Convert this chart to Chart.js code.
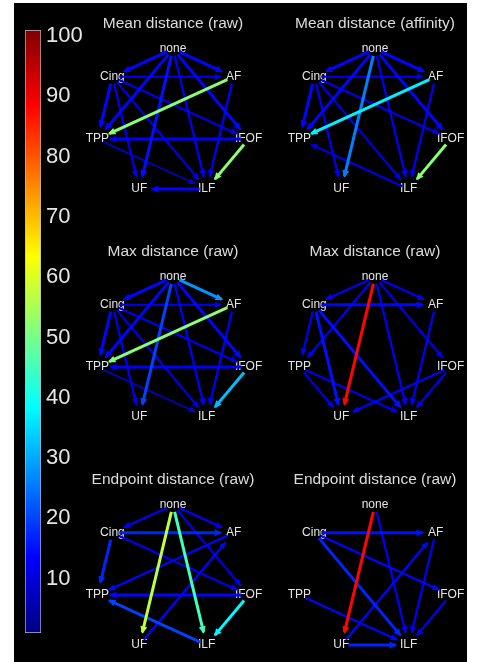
<!DOCTYPE html>
<html><head><meta charset="utf-8">
<script src="https://cdn.jsdelivr.net/npm/chart.js@4.4.0/dist/chart.umd.min.js"></script>
<style>
html,body{margin:0;padding:0;background:#fff;overflow:hidden;width:479px;height:662px;}
#bg{position:absolute;left:14px;top:3px;width:453px;height:659px;background:#000;}
canvas{position:absolute;}
</style></head><body>
<div id="bg"></div>
<canvas id="cb" width="76" height="643" style="left:14px;top:10px"></canvas>
<canvas id="p0" width="200" height="220" style="left:73px;top:12px"></canvas>
<canvas id="p1" width="200" height="220" style="left:275px;top:12px"></canvas>
<canvas id="p2" width="200" height="220" style="left:73px;top:240px"></canvas>
<canvas id="p3" width="200" height="220" style="left:275px;top:240px"></canvas>
<canvas id="p4" width="200" height="220" style="left:73px;top:468px"></canvas>
<canvas id="p5" width="200" height="220" style="left:275px;top:468px"></canvas>
<script>
// ---------------- data ----------------
const nodeNames = ['none','AF','IFOF','ILF','UF','TPP','Cing'];
const colorbarTicks = [10,20,30,40,50,60,70,80,90,100];
const colorbarRange = [1,101];
const panelTitles = ['Mean distance (raw)','Mean distance (affinity)','Max distance (raw)','Max distance (raw)','Endpoint distance (raw)','Endpoint distance (raw)'];

const meanRawEdges = ['none>Cing','none>AF','none>TPP','none>UF','none>ILF','none>IFOF','Cing>AF','Cing>TPP','Cing>UF','Cing>ILF','Cing>IFOF','AF>TPP','AF>ILF','IFOF>TPP','TPP>ILF','ILF>UF','IFOF>ILF'];
const meanRawValues = [14,14,14,15,13,14,12,14,12,11,11,52,13,13,10,14,52];
const meanRawStrength = [3,3,3,3,2,3,2,3,2,2,2,3,2,3,1,3,3];

const meanAffEdges = ['none>Cing','none>AF','none>TPP','none>UF','none>ILF','none>IFOF','Cing>AF','Cing>TPP','Cing>UF','Cing>ILF','Cing>IFOF','AF>TPP','AF>ILF','ILF>TPP','IFOF>ILF'];
const meanAffValues = [14,14,14,26,13,14,12,14,12,11,11,37,13,10,52];
const meanAffStrength = [3,3,3,3,2,3,2,3,2,2,2,3,2,2,3];

const maxRawAEdges = ['none>Cing','none>AF','none>TPP','none>UF','none>ILF','none>IFOF','Cing>AF','Cing>TPP','Cing>UF','Cing>ILF','Cing>IFOF','AF>TPP','AF>ILF','IFOF>TPP','TPP>ILF','IFOF>ILF'];
const maxRawAValues = [14,28,14,20,13,14,12,14,12,11,11,52,13,13,10,32];
const maxRawAStrength = [3,3,3,3,2,3,2,3,2,2,2,3,2,3,1,3];

const maxRawBEdges = ['none>Cing','none>AF','none>TPP','none>UF','none>ILF','none>IFOF','Cing>AF','Cing>TPP','Cing>UF','Cing>ILF','AF>ILF','TPP>ILF','TPP>UF','IFOF>UF','IFOF>ILF'];
const maxRawBValues = [13,13,13,88,13,12,14,12,15,15,13,11,11,13,12];
const maxRawBStrength = [2,2,2,3,2,2,3,2,3,3,2,2,2,2,2];

const endRawAEdges = ['none>Cing','none>AF','none>UF','none>ILF','none>IFOF','Cing>AF','Cing>TPP','Cing>IFOF','AF>TPP','UF>AF','IFOF>TPP','ILF>TPP','IFOF>ILF'];
const endRawAValues = [13,13,57,45,12,17,17,12,14,14,14,20,38];
const endRawAStrength = [2,2,3,3,2,3,3,2,2,2,3,3,3];

const endRawBEdges = ['none>UF','none>ILF','Cing>AF','Cing>ILF','Cing>IFOF','UF>AF','AF>ILF','TPP>ILF','IFOF>ILF','UF>ILF'];
const endRawBValues = [88,13,15,17,14,14,13,14,13,17];
const endRawBStrength = [3,2,3,3,2,2,2,2,2,3];

// ---------------- helpers ----------------
function jet(v){
  const t = Math.min(1, Math.max(0, (v - colorbarRange[0]) / (colorbarRange[1] - colorbarRange[0])));
  const c = x => Math.round(255 * Math.min(1, Math.max(0, x)));
  return `rgb(${c(Math.min(4*t-1.5, -4*t+4.5))},${c(Math.min(4*t-0.5, -4*t+3.5))},${c(Math.min(4*t+0.5, -4*t+2.5))})`;
}
const nodePos = {};
nodeNames.forEach((n,k)=>{ const a = k*2*Math.PI/7; nodePos[n] = {x: Math.sin(a), y: Math.cos(a)}; });
const KX = 77.5, KY = 73.65;        // px per data unit (layout)
const START_GAP = 7, END_GAP = 13;  // px
const strengthWidth = {1:1.6, 2:2.2, 3:3};

function buildDatasets(edges, values, strength){
  return edges.map((e,i)=>{
    const [f,t] = e.split('>');
    const a = nodePos[f], b = nodePos[t];
    const dxp = (b.x-a.x)*KX, dyp = (b.y-a.y)*KY;
    const L = Math.hypot(dxp, dyp);
    const f0 = START_GAP/L, f1 = 1 - END_GAP/L;
    const col = jet(values[i]);
    return {
      data: [{x: a.x+(b.x-a.x)*f0, y: a.y+(b.y-a.y)*f0},{x: a.x+(b.x-a.x)*f1, y: a.y+(b.y-a.y)*f1}],
      showLine: true, borderColor: col, backgroundColor: col,
      borderWidth: strengthWidth[strength[i]], pointRadius: 0, order: -values[i], arrow: true
    };
  });
}

const arrowPlugin = {
  id: 'arrows',
  afterDatasetsDraw(chart){
    const ctx = chart.ctx;
    const metas = chart.getSortedVisibleDatasetMetas().slice().reverse();
    metas.forEach(meta=>{
      const ds = chart.data.datasets[meta.index];
      if(!ds.arrow) return;
      const p0 = meta.data[0], p1 = meta.data[1];
      const ang = Math.atan2(p1.y-p0.y, p1.x-p0.x);
      const Lh = 6, W = ds.borderWidth*0.5 + 2;
      const cx = Math.cos(ang), sy = Math.sin(ang);
      ctx.save();
      ctx.fillStyle = ds.borderColor;
      ctx.beginPath();
      ctx.moveTo(p1.x + cx*1.5, p1.y + sy*1.5);
      ctx.lineTo(p1.x - Lh*cx + W*sy, p1.y - Lh*sy - W*cx);
      ctx.lineTo(p1.x - Lh*cx - W*sy, p1.y - Lh*sy + W*cx);
      ctx.closePath();
      ctx.fill();
      ctx.restore();
    });
  }
};
const labelPlugin = {
  id: 'nodeLabels',
  beforeDatasetsDraw(chart){
    const ctx = chart.ctx, xs = chart.scales.x, ys = chart.scales.y;
    ctx.save();
    ctx.font = '12px "Liberation Sans", Arial, sans-serif';
    ctx.fillStyle = '#e4e4e4';
    ctx.textAlign = 'center';
    ctx.textBaseline = 'middle';
    nodeNames.forEach(n=>{
      ctx.fillText(n, xs.getPixelForValue(nodePos[n].x), ys.getPixelForValue(nodePos[n].y));
    });
    ctx.restore();
  }
};

const panels = [
  [meanRawEdges, meanRawValues, meanRawStrength],
  [meanAffEdges, meanAffValues, meanAffStrength],
  [maxRawAEdges, maxRawAValues, maxRawAStrength],
  [maxRawBEdges, maxRawBValues, maxRawBStrength],
  [endRawAEdges, endRawAValues, endRawAStrength],
  [endRawBEdges, endRawBValues, endRawBStrength]
];

panels.forEach((p,i)=>{
  new Chart(document.getElementById('p'+i), {
    type: 'scatter',
    data: { datasets: buildDatasets(p[0], p[1], p[2]) },
    options: {
      responsive: false, animation: false, devicePixelRatio: 1,
      layout: { padding: 0, autoPadding: false },
      events: [],
      plugins: {
        legend: { display: false }, tooltip: { enabled: false },
        title: { display: true, text: panelTitles[i], color: '#dcdcdc',
          font: { size: 15.5, family: '"Liberation Sans", Arial, sans-serif', weight: 'normal', lineHeight: 1.2 },
          padding: { top: 2, bottom: 0 } }
      },
      scales: {
        x: { type: 'linear', display: false, min: -1.29, max: 1.29 },
        y: { type: 'linear', display: false, min: -1.484, max: 1.223 }
      }
    },
    plugins: [labelPlugin, arrowPlugin]
  });
});

// ---------------- colorbar ----------------
new Chart(document.getElementById('cb'), {
  type: 'bar',
  data: { labels: [''], datasets: [{
    data: [colorbarRange],
    backgroundColor: (c)=>{
      const ch = c.chart; if(!ch.chartArea) return '#000';
      const y = ch.scales.y;
      const g = ch.ctx.createLinearGradient(0, y.getPixelForValue(colorbarRange[0]), 0, y.getPixelForValue(colorbarRange[1]));
      for(let k=0;k<=40;k++){ g.addColorStop(k/40, jet(colorbarRange[0] + k*(colorbarRange[1]-colorbarRange[0])/40)); }
      return g;
    },
    borderColor: '#b8b8c8', borderWidth: 1, borderSkipped: false,
    barPercentage: 1, categoryPercentage: 1
  }]},
  options: {
    responsive: false, animation: false, devicePixelRatio: 1, events: [],
    layout: { padding: { top: 20, bottom: 20, left: 11, right: 0 } },
    plugins: { legend: { display: false }, tooltip: { enabled: false } },
    scales: {
      x: { display: false },
      y: {
        position: 'right', min: colorbarRange[0], max: colorbarRange[1], z: 1,
        afterBuildTicks: a => { a.ticks = colorbarTicks.map(v=>({value:v})); },
        afterFit: s => { s.width = 49; },
        ticks: { color: '#e6e6e6', padding: 5, font: { size: 22, family: '"Liberation Sans", Arial, sans-serif' } },
        grid: { drawTicks: false, color: 'rgba(255,255,255,0.5)', lineWidth: 1 },
        border: { display: false, dash: [4, 8] }
      }
    }
  }
});
</script>
</body></html>
